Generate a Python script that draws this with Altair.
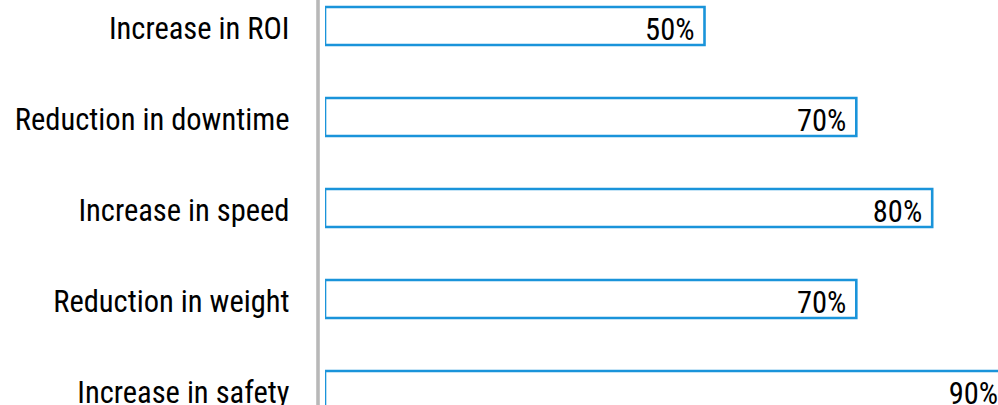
import altair as alt
import pandas as pd

categories = ["Increase in ROI", "Reduction in downtime", "Increase in speed",
              "Reduction in weight", "Increase in safety"]
values = [0.50, 0.70, 0.80, 0.70, 0.90]
labels = ["50%", "70%", "80%", "70%", "90%"]

df = pd.DataFrame({"category": categories, "value": values, "label": labels})

FONT = "'Roboto Condensed', 'DejaVu Sans Condensed', 'Liberation Sans Narrow', sans-serif"
BLUE = "#1a94da"

x = alt.X("value:Q", scale=alt.Scale(domain=[0, 1], range=[0, 759], nice=False, zero=True), axis=None)
y = alt.Y("category:N", sort=categories,
          scale=alt.Scale(range=[7, 409], paddingInner=0.5824, paddingOuter=0),
          axis=alt.Axis(title=None, domain=False, ticks=False, labelPadding=36,
                        labelFontSize=30.5, labelFont=FONT, labelColor="#000000",
                        labelFontWeight="normal", labelOffset=4,
                        labelLimit=0, grid=False))

bars = alt.Chart(df).mark_bar(fill="white", stroke=BLUE, strokeWidth=2.6, clip=True).encode(x=x, y=y)
text = alt.Chart(df).mark_text(align="right", baseline="middle", dx=-10, dy=5, fontSize=30.5,
                               font=FONT, fontWeight="normal", color="#000000", clip=True).encode(
    x=x, y=y, text="label:N")
rule = alt.Chart(df).mark_rule(color="#b8b8b8", strokeWidth=2.5).encode(
    x=alt.value(-7), y=alt.value(0), y2=alt.value(405))

chart = alt.layer(rule, bars, text).properties(
    width=673, height=405,
    autosize=alt.AutoSizeParams(type="none"),
    padding={"left": 325, "top": 0, "right": 0, "bottom": 0},
    background="white",
).configure_view(strokeWidth=0)

chart.save("out.html", embed_options={"renderer": "svg", "actions": False})
